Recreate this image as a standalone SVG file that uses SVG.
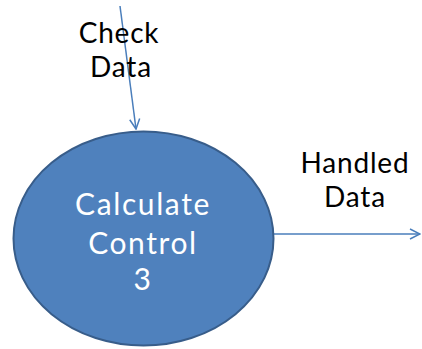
<svg xmlns="http://www.w3.org/2000/svg" width="422" height="349" viewBox="0 0 422 349">
<defs>
<style>
.lbl{font-family:Lato,"Open Sans","DejaVu Sans",sans-serif;font-size:28px;letter-spacing:0.8px;fill:#000;text-anchor:middle}
.in{font-family:Lato,"Open Sans","DejaVu Sans",sans-serif;font-size:30px;letter-spacing:1.6px;fill:#fff;text-anchor:middle}
.edge{stroke:#4A7EBB;stroke-width:1.5;fill:none}
</style>
<marker id="arr" viewBox="0 0 12 12" refX="11" refY="6" markerWidth="12" markerHeight="12" markerUnits="userSpaceOnUse" orient="auto">
<path d="M1,1 L11,6 L1,11" fill="none" stroke="#4A7EBB" stroke-width="1.5"/>
</marker>
</defs>
<rect width="422" height="349" fill="#fff"/>
<g id="connectors">
<line class="edge" x1="120" y1="6" x2="136" y2="129" marker-end="url(#arr)"/>
<line class="edge" x1="274" y1="234" x2="420" y2="234" marker-end="url(#arr)"/>
</g>
<g id="node-calc">
<ellipse cx="143.5" cy="238.5" rx="130" ry="107" fill="#4F81BD" stroke="#385D8A" stroke-width="2"/>
<text class="in" x="143" y="215">Calculate</text>
<text class="in" x="143" y="254">Control</text>
<text class="in" x="143" y="290">3</text>
</g>
<g id="label-check">
<text class="lbl" x="119" y="43">Check</text>
<text class="lbl" x="121" y="77">Data</text>
</g>
<g id="label-handled">
<text class="lbl" x="355" y="173">Handled</text>
<text class="lbl" x="355" y="207">Data</text>
</g>
</svg>
